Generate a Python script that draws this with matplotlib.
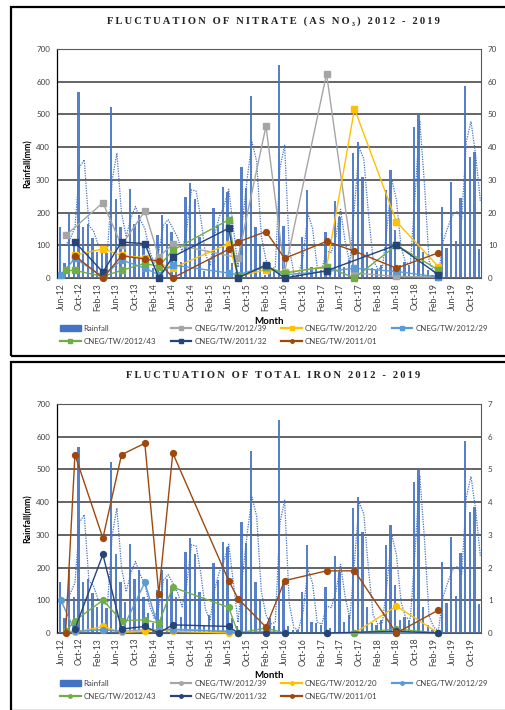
import numpy as np
import pandas as pd
import matplotlib
matplotlib.use("Agg")
import matplotlib.pyplot as plt
from matplotlib.patches import Rectangle
from matplotlib.lines import Line2D

# monthly categories Jun-12 .. Dec-19
months = pd.date_range("2012-06-01", "2019-12-01", freq="MS").strftime("%b-%y").tolist()

rainfall = [155, 45, 197, 110, 568, 155, 165, 122, 80, 100, 75, 524, 240, 157, 95, 272,
            165, 192, 110, 60, 30, 130, 192, 165, 140, 110, 50, 249, 290, 242, 126, 20,
            55, 213, 162, 279, 264, 45, 20, 340, 274, 557, 157, 100, 10, 45, 20, 652,
            160, 20, 10, 10, 125, 268, 35, 30, 25, 140, 15, 235, 185, 35, 55, 383,
            417, 310, 80, 30, 25, 40, 270, 330, 148, 40, 50, 40, 463, 500, 80, 25,
            10, 5, 216, 91, 292, 113, 244, 588, 369, 384, 89]

sample_months = ["Jun-12", "Jul-12", "Sep-12", "Mar-13", "Jul-13", "Dec-13", "Mar-14", "Jun-14",
                 "Jun-15", "Aug-15", "Feb-16", "Jun-16", "Mar-17", "Sep-17", "Jun-18", "Mar-19"]

well_names = ["CNEG/TW/2012/39", "CNEG/TW/2012/20", "CNEG/TW/2012/29",
              "CNEG/TW/2012/43", "CNEG/TW/2011/32", "CNEG/TW/2011/01"]

# nitrate (as NO3), mg/l
nitrate_39 = [None, 13, None, 23, 10, 20.4, 6.4, 10.4, None, 6.2, 46.4, 1.8, 62.4, 1.5, 0.5, 0.3]
nitrate_20 = [None, None, 7.0, 8.9, 6.9, 6.2, 4.5, 3.0, 10.5, 0.5, 2.5, 1.7, 3.3, 51.7, 17.2, 3.5]
nitrate_29 = [1.0, None, 6.0, 0.5, 5.5, 3.0, 1.0, 4.0, 1.5, 1.0, 3.5, 1.0, 2.0, 3.0, 2.0, 0.3]
nitrate_43 = [None, 2.3, 2.3, 0.5, 2.3, 4.5, 3.5, 8.5, 17.8, 0.5, 3.5, 1.5, 3.5, 0.0, 10.0, 2.5]
nitrate_32 = [None, None, 11.0, 1.8, 11.0, 10.5, 0.0, 6.5, 15.2, 0.0, 4.0, 0.0, 2.2, None, 10.1, 1.0]
nitrate_01 = [None, None, 6.8, 0.0, 6.8, 5.8, 5.2, 0.0, 8.8, 11.0, 14.2, 6.0, 11.2, 8.2, 3.0, 7.7]

# total iron, mg/l
iron_39 = [None, 0.05, 0.05, 0.1, 0.05, 0.1, 0.1, 0.12, 0.05, 0.0, 0.0, 0.0, 0.0, 0.0, 0.02, 0.0]
iron_20 = [None, None, 0.02, 0.2, 0.02, 0.05, 0.1, 0.05, 0.0, 0.0, 0.0, 0.0, 0.0, 0.0, 0.82, 0.0]
iron_29 = [1.0, None, 0.05, 0.1, 0.05, 1.55, 0.1, 0.1, 0.05, 0.0, 0.05, 0.0, 0.0, 0.0, 0.0, 0.0]
iron_43 = [None, 0.05, 0.38, 1.0, 0.38, 0.4, 0.3, 1.4, 0.78, 0.0, 0.15, 0.0, 0.0, 0.0, 0.12, 0.0]
iron_32 = [None, None, 0.13, 2.4, 0.12, 0.2, 0.0, 0.25, 0.2, 0.0, 0.0, 0.0, 0.0, None, 0.05, 0.0]
iron_01 = [None, 0.0, 5.45, 2.9, 5.45, 5.8, 1.2, 5.5, 1.6, 1.05, 0.18, 1.6, 1.9, 1.9, 0.0, 0.7]

RAIN_COLOR = "#4472C4"
WELL_COLORS = ["#A5A5A5", "#FFC000", "#5B9BD5", "#70AD47", "#264478", "#9E480E"]
TEXT_COLOR = "#404040"
SANS = "Lato"

W, H = 505, 710


def spaced(text):
    # loose letter tracking like the original heading
    return "\u2009".join(text)


def draw_panel(fig, top_px, title, series, right_max, markers):
    left_px, right_px = 57, 481
    plot_top = top_px + 42
    plot_bottom = plot_top + 229

    # panel frame
    fig.patches.append(Rectangle((11 / W, 1 - (top_px + 349) / H), 1.0, 349 / H,
                                 transform=fig.transFigure, fill=False,
                                 edgecolor="black", lw=1.6))

    fig.text(273 / W, 1 - (top_px + 14) / H, spaced(title), ha="center", va="center",
             family="Liberation Serif", weight="bold", fontsize=7.6, color="#222222")

    ax = fig.add_axes([left_px / W, 1 - plot_bottom / H,
                       (right_px - left_px) / W, (plot_bottom - plot_top) / H])
    x = np.arange(len(months))
    ax.bar(x - 0.25, rainfall, width=0.5, color=RAIN_COLOR, alpha=0.9, zorder=2)
    moving_avg = pd.Series(rainfall).rolling(2).mean()
    ax.plot(x, moving_avg, color=RAIN_COLOR, ls=(0, (1, 1)), lw=0.9, zorder=3)

    ax.set_xlim(-0.85, 90.15)
    ax.set_ylim(0, 700)
    ax.set_yticks(range(0, 701, 100))
    ax.set_xticks(x[::4])
    ax.set_xticklabels(months[::4], rotation=90)
    ax.grid(axis="y", color="#3a3a3a", lw=1.1)
    ax.set_axisbelow(True)
    ax.tick_params(axis="both", length=0, labelsize=5.8, labelcolor=TEXT_COLOR)
    ax.tick_params(axis="x", pad=3.5, labelsize=6.3)
    ax.tick_params(axis="y", pad=5)
    for lab in ax.get_xticklabels() + ax.get_yticklabels():
        lab.set_family(SANS)
    for side in ["top", "right", "bottom"]:
        ax.spines[side].set_color("#595959")
        ax.spines[side].set_linewidth(0.8)
    ax.spines["left"].set_color("black")
    ax.spines["left"].set_linewidth(0.9)

    ax2 = ax.twinx()
    ax2.set_ylim(0, right_max)
    ax2.set_yticks(np.linspace(0, right_max, 8))
    ax2.set_yticklabels([f"{v:g}" for v in np.linspace(0, right_max, 8)])
    ax2.tick_params(axis="y", length=0, labelsize=5.8, labelcolor=TEXT_COLOR, pad=5)
    for lab in ax2.get_yticklabels():
        lab.set_family(SANS)
    for s in ax2.spines.values():
        s.set_visible(False)

    for name, values, color, marker in zip(well_names, series, WELL_COLORS, markers):
        pts = [(months.index(m), v) for m, v in zip(sample_months, values) if v is not None]
        xs, ys = zip(*pts)
        ax2.plot(xs, ys, color=color, lw=1.0, marker=marker, markersize=4.2,
                 clip_on=False, zorder=4)

    fig.text(28 / W, 1 - (plot_top + plot_bottom) / 2 / H, "Rainfall(mm)", rotation=90,
             ha="center", va="center", family=SANS, weight="bold", fontsize=6.3, color="black")
    fig.text((left_px + right_px) / 2 / W, 1 - (top_px + 314) / H, "Month",
             ha="center", va="center", family=SANS, weight="bold", fontsize=7, color="black")

    handles = [Rectangle((0, 0), 1, 1, color=RAIN_COLOR)]
    for color, marker in zip(WELL_COLORS, markers):
        handles.append(Line2D([], [], color=color, lw=1.6, marker=marker, markersize=2.5))
    labels = ["Rainfall"] + well_names
    order = [0, 4, 1, 5, 2, 6, 3]
    leg = fig.legend([handles[i] for i in order], [labels[i] for i in order], ncol=4,
                     loc="upper left", bbox_to_anchor=(60 / W, 1 - (top_px + 318) / H),
                     frameon=False, prop={"family": SANS, "size": 5.7},
                     handlelength=2.6, handletextpad=0.4, columnspacing=1.8,
                     labelspacing=0.75, borderpad=0, borderaxespad=0)
    for t in leg.get_texts():
        t.set_color(TEXT_COLOR)
    return ax, ax2


fig = plt.figure(figsize=(W / 100, H / 100), dpi=100)

draw_panel(fig, 7, "FLUCTUATION OF NITRATE (AS NO\u2083) 2012 - 2019",
           [nitrate_39, nitrate_20, nitrate_29, nitrate_43, nitrate_32, nitrate_01],
           70, ["s", "s", "s", "s", "s", "o"])
draw_panel(fig, 362, "FLUCTUATION OF TOTAL IRON 2012 - 2019",
           [iron_39, iron_20, iron_29, iron_43, iron_32, iron_01],
           7, ["o"] * 6)

fig.savefig("out.png", dpi=100)
